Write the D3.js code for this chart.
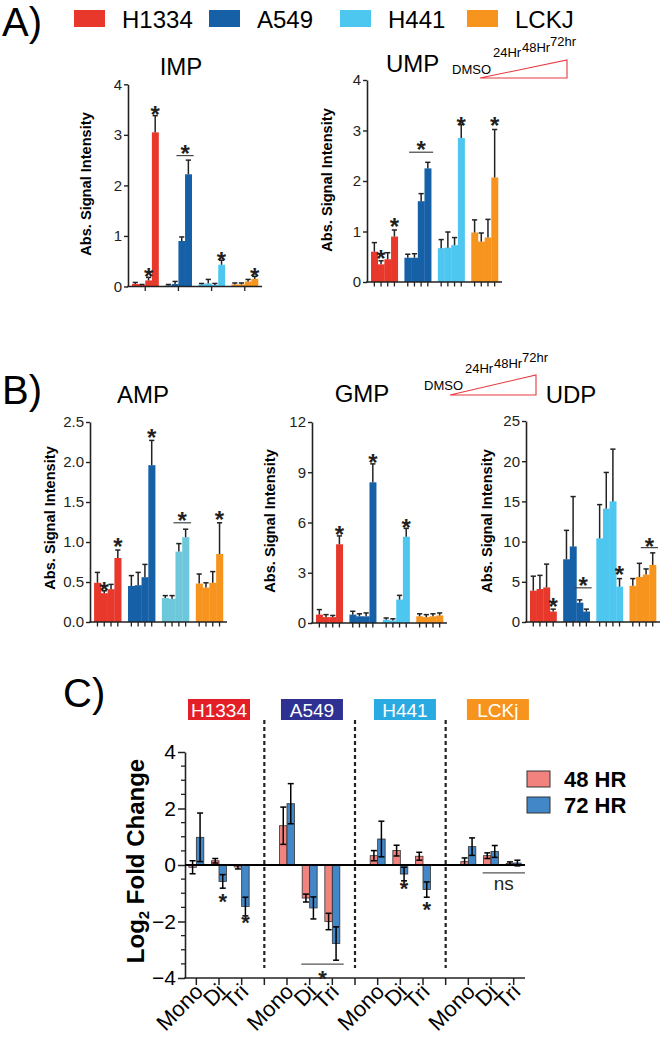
<!DOCTYPE html>
<html><head><meta charset="utf-8">
<script src="https://cdn.jsdelivr.net/npm/d3@7"></script>
<style>body{margin:0;background:#fff}svg{display:block}</style>
</head><body><svg id="chart" width="663" height="1039"></svg>
<script>
// ---------- DATA ----------
const cellLines = ["H1334", "A549", "H441", "LCKJ"];
const timepoints = ["DMSO", "24Hr", "48Hr", "72hr"];
const cellColors = ["#E8382B", "#1660A8", "#4DC7F0", "#F7941E"];

// Panel A: IMP (mean, top of error bar) per cell line x timepoint
const impMean = [[0.05,0.03,0.12,3.05],[0.02,0.05,0.90,2.22],[0.04,0.06,0.03,0.43],[0.04,0.04,0.10,0.15]];
const impTop  = [[0.08,0.04,0.18,3.38],[0.04,0.10,0.98,2.50],[0.06,0.14,0.06,0.52],[0.07,0.07,0.14,0.20]];
const impTicks = [0,1,2,3,4];
// Panel A: UMP
const umpMean = [[0.60,0.35,0.45,0.90],[0.48,0.48,1.60,2.25],[0.67,0.68,0.73,2.85],[0.98,0.80,0.88,2.07]];
const umpTop  = [[0.78,0.42,0.58,1.03],[0.55,0.56,1.75,2.37],[0.84,0.99,0.88,3.12],[1.23,0.97,1.24,3.02]];
const umpTicks = [0,1,2,3,4];
// Panel B: AMP
const ampMean = [[0.49,0.36,0.41,0.80],[0.45,0.46,0.56,1.96],[0.30,0.29,0.88,1.06],[0.48,0.43,0.49,0.85]];
const ampTop  = [[0.62,0.39,0.47,0.90],[0.58,0.62,0.72,2.27],[0.33,0.33,0.98,1.16],[0.60,0.49,0.63,1.24]];
const ampTicks = [0,0.5,1,1.5,2,2.5];
// Panel B: GMP
const gmpMean = [[0.50,0.35,0.35,4.70],[0.50,0.40,0.40,8.40],[0.20,0.15,1.40,5.15],[0.40,0.35,0.40,0.45]];
const gmpTop  = [[0.80,0.50,0.45,5.20],[0.70,0.55,0.60,9.50],[0.30,0.25,1.65,5.65],[0.55,0.50,0.55,0.60]];
const gmpTicks = [0,3,6,9,12];
// Panel B: UDP
const udpMean = [[3.9,4.1,4.3,1.3],[7.8,9.4,2.4,1.3],[10.4,14.1,15.0,4.4],[4.5,5.6,5.9,7.1]];
const udpTop  = [[5.7,5.8,7.2,1.6],[11.4,15.6,2.75,1.6],[14.6,18.6,21.5,5.4],[5.4,7.3,6.6,8.6]];
const udpTicks = [0,5,10,15,20,25];

// significance marks: g = cell line, b = bar (or [from,to] with bracket line), v = star centre value
const impStars = [{g:0,b:2,v:0.30},{g:0,b:3,v:3.50},{g:1,b:[2,3],line:2.59,v:2.72},{g:2,b:3,v:0.62},{g:3,b:3,v:0.30}];
const umpStars = [{g:0,b:1,v:0.57},{g:0,b:3,v:1.20},{g:1,b:[1,3],line:2.57,v:2.72},{g:2,b:3,v:3.20},{g:3,b:3,v:3.20}];
const ampStars = [{g:0,b:1,v:0.46},{g:0,b:3,v:1.00},{g:1,b:3,v:2.37},{g:2,b:[2,3],line:1.24,v:1.33},{g:3,b:3,v:1.34}];
const gmpStars = [{g:0,b:3,v:5.6},{g:1,b:3,v:9.9},{g:2,b:3,v:6.0}];
const udpStars = [{g:0,b:3,v:2.5},{g:1,b:[2,3],line:4.25,v:5.1},{g:2,b:3,v:6.5},{g:3,b:[2,3],line:9.25,v:10.0}];

// Panel C: log2 fold change
const fcGroups = ["H1334", "A549", "H441", "LCKj"];
const fcGroupColors = ["#E31E26", "#2E3192", "#29ABE2", "#F7941D"];
const fcClasses = ["Mono", "Di", "Tri"];
const fcSeries = ["48 HR", "72 HR"];
const fcSeriesColors = ["#F2827E", "#4287C7"];
const fc48    = [[-0.08,0.15,-0.07],[1.39,-1.17,-2.00],[0.33,0.51,0.31],[0.12,0.33,0.05]];
const fc48Err = [[0.23,0.08,0.07],[0.66,0.14,0.29],[0.18,0.19,0.14],[0.13,0.10,0.06]];
const fc72    = [[0.98,-0.58,-1.47],[2.17,-1.52,-2.78],[0.92,-0.32,-0.87],[0.65,0.48,0.07]];
const fc72Err = [[0.86,0.24,0.33],[0.71,0.39,0.59],[0.63,0.24,0.27],[0.31,0.21,0.10]];
const fcYTicks = [-4,-2,0,2,4];
const fcStars = [{g:0,c:1,v:-1.13},{g:0,c:2,v:-1.88},{g:2,c:1,v:-0.67},{g:2,c:2,v:-1.41}];
const fcBrackets = [{g:1,c:[1,2],line:-3.51,v:-3.83,label:"*"},{g:3,c:[1,2],line:-0.28,v:-0.64,label:"ns"}];

// ---------- DRAWING ----------
const FONT = "'Liberation Sans', Arial, Helvetica, sans-serif";
const INK = "#231f20";
const svg = d3.select("#chart").attr("font-family", FONT);

function star(g, x, yc, fs, label) {
  label = label || "*";
  if (label === "*") {
    g.append("text").attr("x", x).attr("y", yc + 0.56 * fs).attr("text-anchor", "middle")
      .attr("font-size", fs).attr("font-weight", "bold").attr("fill", INK).text("*");
  } else {
    g.append("text").attr("x", x).attr("y", yc + 0.35 * fs).attr("text-anchor", "middle")
      .attr("font-size", fs).attr("fill", INK).text(label);
  }
}

function drawBarPanel(p) {
  const g = svg.append("g");
  const y = d3.scaleLinear().domain([0, p.max]).range([p.y0, p.yTop]);
  const xg = d3.scaleBand().domain(d3.range(cellLines.length)).range([p.x0, p.x1])
    .paddingInner(0.2).paddingOuter(0.12);
  const xb = d3.scaleBand().domain(d3.range(timepoints.length)).range([0, xg.bandwidth()]);
  const bx = (gi, bi) => xg(gi) + xb(bi);
  const bw = xb.bandwidth();
  const cols = p.colors || cellColors;
  const rows = [];
  p.mean.forEach((arr, gi) => arr.forEach((v, bi) => rows.push({gi, bi, v, t: p.top[gi][bi]})));

  g.selectAll("rect.bar").data(rows).join("rect").attr("class", "bar")
    .attr("x", d => bx(d.gi, d.bi)).attr("width", bw + 0.3)
    .attr("y", d => y(d.v)).attr("height", d => p.y0 - y(d.v))
    .attr("fill", d => cols[d.gi]);

  const cx = d => bx(d.gi, d.bi) + bw / 2;
  g.selectAll("line.eb").data(rows).join("line").attr("class", "eb")
    .attr("x1", cx).attr("x2", cx).attr("y1", d => y(d.v)).attr("y2", d => y(d.t))
    .attr("stroke", "#222").attr("stroke-width", 1.5);
  g.selectAll("line.cap").data(rows).join("line").attr("class", "cap")
    .attr("x1", d => cx(d) - 2.6).attr("x2", d => cx(d) + 2.6)
    .attr("y1", d => y(d.t)).attr("y2", d => y(d.t))
    .attr("stroke", "#222").attr("stroke-width", 1.5);

  // y axis
  const ax = d3.axisLeft(y).tickValues(p.ticks).tickFormat(p.fmt).tickSize(4).tickSizeOuter(0).tickPadding(2);
  const ag = g.append("g").attr("transform", `translate(${p.x0},0)`).call(ax);
  ag.select(".domain").attr("stroke", "#222").attr("stroke-width", 1.6);
  ag.selectAll(".tick line").attr("stroke", "#222").attr("stroke-width", 1.4);
  ag.selectAll(".tick text").attr("font-size", 15).attr("font-family", FONT).attr("fill", INK);

  // x axis
  g.append("line").attr("x1", p.x0 - 0.8).attr("x2", p.x1).attr("y1", p.y0).attr("y2", p.y0)
    .attr("stroke", "#222").attr("stroke-width", 1.6);
  const tickXs = p.groupTicks
    ? d3.range(cellLines.length).map(gi => xg(gi) + xg.bandwidth() / 2)
    : rows.map(cx);
  g.selectAll("line.xt").data(tickXs).join("line").attr("class", "xt")
    .attr("x1", d => d).attr("x2", d => d).attr("y1", p.y0).attr("y2", p.y0 + 4.5)
    .attr("stroke", "#222").attr("stroke-width", 1.3);

  // significance
  p.stars.forEach(s => {
    let sx;
    if (Array.isArray(s.b)) {
      const xa = bx(s.g, s.b[0]) - 2, xz = bx(s.g, s.b[1]) + bw + 2;
      g.append("line").attr("x1", xa).attr("x2", xz).attr("y1", y(s.line)).attr("y2", y(s.line))
        .attr("stroke", "#444").attr("stroke-width", 1.2);
      sx = (xa + xz) / 2;
    } else {
      sx = bx(s.g, s.b) + bw / 2;
    }
    star(g, sx, y(s.v), 24);
  });

  // title
  g.append("text").attr("x", p.titleX).attr("y", p.titleY).attr("text-anchor", p.titleAnchor || "middle")
    .attr("font-size", 24).attr("fill", "#000").text(p.title);
  // y label
  g.append("text").attr("transform", `translate(${p.labelX},${p.labelY}) rotate(-90)`)
    .attr("text-anchor", "middle").attr("dy", "0.35em")
    .attr("font-size", 14.6).attr("font-weight", "bold").attr("fill", "#000")
    .text("Abs. Signal Intensity");
}

function drawTimeKey(x0, yBase, tri) {
  const g = svg.append("g");
  g.append("polygon")
    .attr("points", `${tri[0]},${tri[1]} ${tri[2]},${tri[3]} ${tri[2]},${tri[1]}`)
    .attr("fill", "none").attr("stroke", "#E8383D").attr("stroke-width", 1.1);
  const offs = [[0, 0], [41, -17], [70, -22], [98, -28]];
  timepoints.forEach((t, i) => {
    g.append("text").attr("x", x0 + offs[i][0]).attr("y", yBase + offs[i][1])
      .attr("font-size", 13).attr("fill", "#000").text(t);
  });
}

// ----- Panel A header / legend -----
svg.append("text").attr("x", 2).attr("y", 36).attr("font-size", 40).attr("fill", "#000").text("A)");
const legSq = [74, 209, 340, 467];
cellLines.forEach((c, i) => {
  svg.append("rect").attr("x", legSq[i]).attr("y", 10).attr("width", 31).attr("height", 17).attr("fill", cellColors[i]);
  svg.append("text").attr("x", legSq[i] + 48).attr("y", 28).attr("font-size", 24).attr("fill", "#000").text(c);
});

drawBarPanel({title: "IMP", titleX: 181, titleY: 75, x0: 128, x1: 262, y0: 286.5, yTop: 84.3, max: 4,
  ticks: impTicks, fmt: d3.format("d"), mean: impMean, top: impTop, stars: impStars,
  labelX: 86, labelY: 184, groupTicks: true});
drawBarPanel({title: "UMP", titleX: 386, titleY: 72, titleAnchor: "start", x0: 367, x1: 502, y0: 282, yTop: 80, max: 4,
  ticks: umpTicks, fmt: d3.format("d"), mean: umpMean, top: umpTop, stars: umpStars,
  labelX: 327, labelY: 180});
drawTimeKey(452, 74, [480, 78, 567, 60]);

// ----- Panel B -----
svg.append("text").attr("x", 2).attr("y", 404).attr("font-size", 40).attr("fill", "#000").text("B)");
drawBarPanel({title: "AMP", titleX: 143, titleY: 403, x0: 90, x1: 227, y0: 622, yTop: 422, max: 2.5,
  ticks: ampTicks, fmt: d3.format(".1f"), mean: ampMean, top: ampTop, stars: ampStars,
  labelX: 50, labelY: 518, colors: ["#E8382B", "#1660A8", "#6CC8DA", "#F7941E"]});
drawBarPanel({title: "GMP", titleX: 362, titleY: 402, x0: 312, x1: 447, y0: 623, yTop: 422, max: 12,
  ticks: gmpTicks, fmt: d3.format("d"), mean: gmpMean, top: gmpTop, stars: gmpStars,
  labelX: 270, labelY: 521});
drawBarPanel({title: "UDP", titleX: 571, titleY: 403, x0: 526, x1: 660, y0: 622, yTop: 421, max: 25,
  ticks: udpTicks, fmt: d3.format("d"), mean: udpMean, top: udpTop, stars: udpStars,
  labelX: 487, labelY: 521});
drawTimeKey(424, 390, [450, 395, 536, 375]);

// ----- Panel C -----
(function () {
  const g = svg.append("g");
  g.append("text").attr("x", 63).attr("y", 707).attr("font-size", 40).attr("fill", "#000").text("C)");
  const slots = [];
  fcGroups.forEach((gn, gi) => {
    fcClasses.forEach(c => slots.push(gn + "|" + c));
    if (gi < fcGroups.length - 1) slots.push("sep" + gi);
  });
  const x = d3.scaleBand().domain(slots).range([185, 525]);
  const y = d3.scaleLinear().domain([-4, 4]).range([978, 752]);
  const inner = d3.scaleBand().domain(fcSeries).range([x.bandwidth() * 0.17, x.bandwidth() * 0.83]);
  const sc = k => x(k) + x.bandwidth() / 2;

  // group label boxes
  fcGroups.forEach((gn, gi) => {
    const cxm = sc(gn + "|Di") + gi * 2.3;
    g.append("rect").attr("x", cxm - 31).attr("y", 699).attr("width", 62).attr("height", 21).attr("fill", fcGroupColors[gi]);
    g.append("text").attr("x", cxm).attr("y", 717).attr("text-anchor", "middle").attr("font-size", 19)
      .attr("fill", "#fff").text(gn);
  });

  // separators
  slots.filter(k => k.startsWith("sep")).forEach(k => {
    g.append("line").attr("x1", sc(k)).attr("x2", sc(k)).attr("y1", 720).attr("y2", 968)
      .attr("stroke", "#222").attr("stroke-width", 2.2).attr("stroke-dasharray", "4,3");
  });

  // bars
  const rows = [];
  fcGroups.forEach((gn, gi) => fcClasses.forEach((c, ci) => {
    rows.push({k: gn + "|" + c, s: fcSeries[0], v: fc48[gi][ci], e: fc48Err[gi][ci], col: fcSeriesColors[0]});
    rows.push({k: gn + "|" + c, s: fcSeries[1], v: fc72[gi][ci], e: fc72Err[gi][ci], col: fcSeriesColors[1]});
  }));
  const bxs = d => x(d.k) + inner(d.s);
  g.selectAll("rect.fc").data(rows).join("rect").attr("class", "fc")
    .attr("x", bxs).attr("width", inner.bandwidth())
    .attr("y", d => y(Math.max(0, d.v))).attr("height", d => Math.abs(y(d.v) - y(0)))
    .attr("fill", d => d.col).attr("stroke", "#333").attr("stroke-width", 0.8);
  const ecx = d => bxs(d) + inner.bandwidth() / 2;
  g.selectAll("line.fe").data(rows).join("line").attr("class", "fe")
    .attr("x1", ecx).attr("x2", ecx).attr("y1", d => y(d.v - d.e)).attr("y2", d => y(d.v + d.e))
    .attr("stroke", "#000").attr("stroke-width", 1.5);
  [1, -1].forEach(sg => {
    g.selectAll("line.fc" + (sg > 0 ? "t" : "b")).data(rows).join("line").attr("class", "fc" + (sg > 0 ? "t" : "b"))
      .attr("x1", d => ecx(d) - 3).attr("x2", d => ecx(d) + 3)
      .attr("y1", d => y(d.v + sg * d.e)).attr("y2", d => y(d.v + sg * d.e))
      .attr("stroke", "#000").attr("stroke-width", 1.5);
  });

  // y axis
  const ay = g.append("g").attr("transform", "translate(185,0)")
    .call(d3.axisLeft(y).tickValues(fcYTicks).tickFormat(d3.format("d")).tickSize(7).tickSizeOuter(0).tickPadding(2));
  ay.select(".domain").attr("stroke", "#222").attr("stroke-width", 1.6);
  ay.selectAll(".tick line").attr("stroke", "#222").attr("stroke-width", 1.5);
  ay.selectAll(".tick text").attr("font-size", 21).attr("font-family", FONT).attr("fill", "#000");
  const minor = d3.range(-4, 4.01, 0.5).filter(v => !fcYTicks.includes(v));
  g.selectAll("line.mn").data(minor).join("line").attr("class", "mn")
    .attr("x1", 181).attr("x2", 185).attr("y1", d => y(d)).attr("y2", d => y(d))
    .attr("stroke", "#222").attr("stroke-width", 1.3);

  // zero line and bottom axis
  g.append("line").attr("x1", 185).attr("x2", 525).attr("y1", y(0)).attr("y2", y(0))
    .attr("stroke", "#000").attr("stroke-width", 2);
  g.append("line").attr("x1", 184.2).attr("x2", 525).attr("y1", y(-4)).attr("y2", y(-4))
    .attr("stroke", "#222").attr("stroke-width", 1.6);
  g.selectAll("line.bt").data(slots).join("line").attr("class", "bt")
    .attr("x1", sc).attr("x2", sc).attr("y1", y(-4)).attr("y2", y(-4) + 7)
    .attr("stroke", "#222").attr("stroke-width", 1.5);
  slots.filter(k => !k.startsWith("sep")).forEach(k => {
    g.append("text").attr("transform", `translate(${sc(k) + 8},${y(-4) + 15}) rotate(-45)`)
      .attr("text-anchor", "end").attr("font-size", 22).attr("fill", "#000").text(k.split("|")[1]);
  });

  // y label
  const yl = g.append("text").attr("transform", "translate(144,861) rotate(-90)")
    .attr("text-anchor", "middle").attr("font-size", 24).attr("font-weight", "bold").attr("fill", "#000");
  yl.append("tspan").text("Log");
  yl.append("tspan").attr("font-size", 15).attr("dy", 5).text("2");
  yl.append("tspan").attr("dy", -5).text(" Fold Change");

  // stars
  fcStars.forEach(s => {
    const k = fcGroups[s.g] + "|" + fcClasses[s.c];
    star(g, x(k) + inner(fcSeries[1]) + inner.bandwidth() / 2, y(s.v), 22);
  });
  fcBrackets.forEach(b => {
    const xa = x(fcGroups[b.g] + "|" + fcClasses[b.c[0]]) + 3;
    const xz = x(fcGroups[b.g] + "|" + fcClasses[b.c[1]]) + x.bandwidth();
    g.append("line").attr("x1", xa).attr("x2", xz).attr("y1", y(b.line)).attr("y2", y(b.line))
      .attr("stroke", "#555").attr("stroke-width", 1.3);
    star(g, (xa + xz) / 2, y(b.v), b.label === "*" ? 22 : 19, b.label);
  });

  // legend
  fcSeries.forEach((s, i) => {
    g.append("rect").attr("x", 527).attr("y", 771 + i * 26).attr("width", 23).attr("height", 16)
      .attr("fill", fcSeriesColors[i]).attr("stroke", "#333").attr("stroke-width", 1);
    g.append("text").attr("x", 564).attr("y", 787 + i * 26).attr("font-size", 22).attr("font-weight", "bold")
      .attr("fill", "#000").text(s);
  });
})();
</script>
</body></html>
